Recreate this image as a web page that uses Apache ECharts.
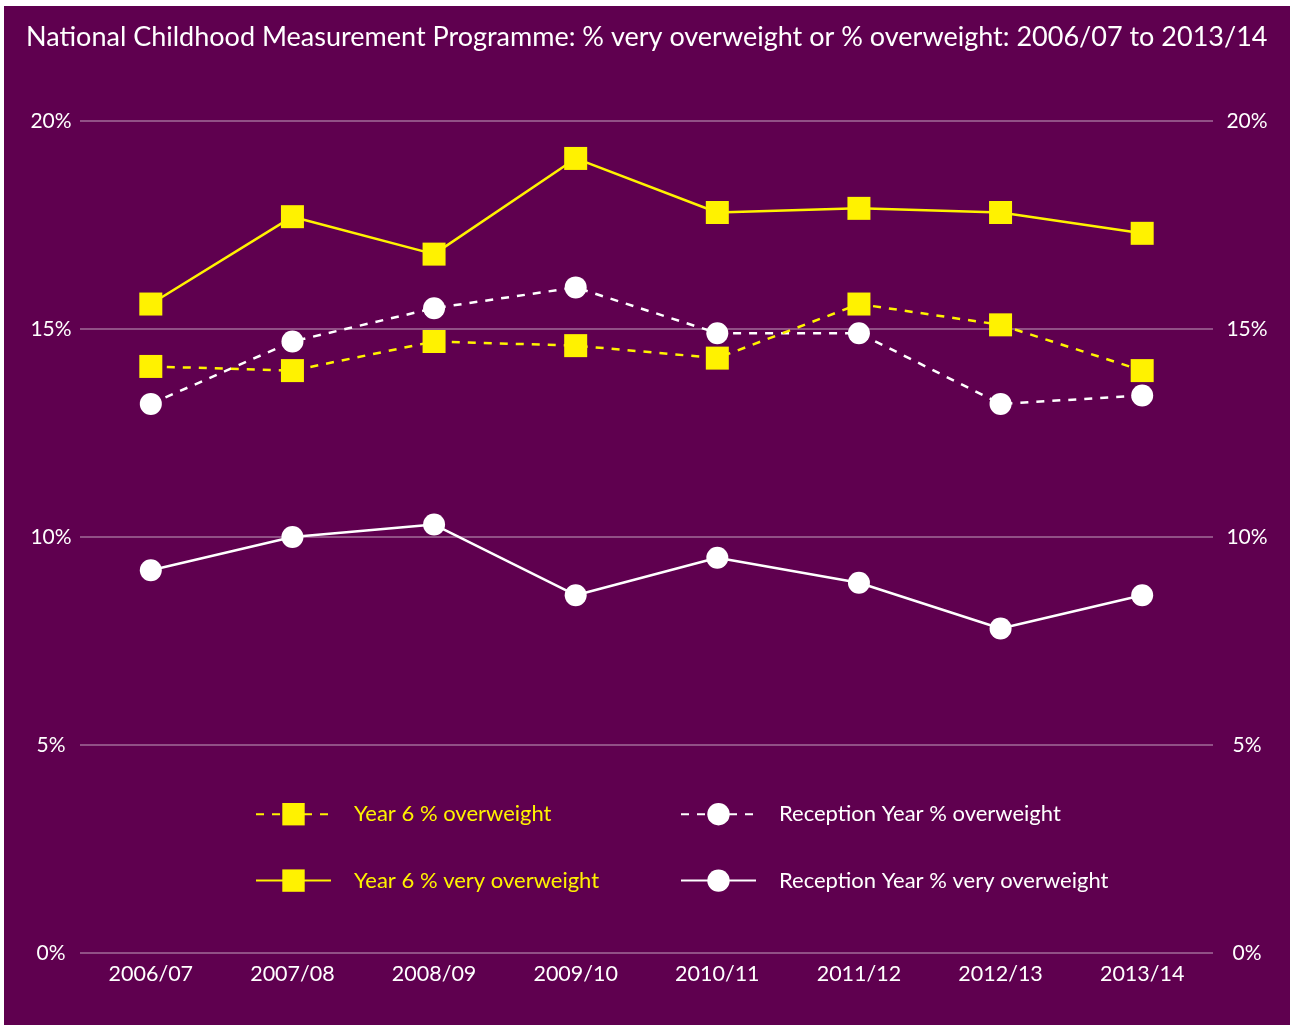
<!DOCTYPE html>
<html>
<head>
<meta charset="utf-8">
<script src="https://cdn.jsdelivr.net/npm/echarts@6/dist/echarts.min.js"></script>
<style>
html,body{margin:0;padding:0;background:#fff;width:1290px;height:1025px;overflow:hidden;}
#c{position:absolute;left:4px;top:6px;width:1286px;height:1019px;}
</style>
</head>
<body>
<div id="c"></div>
<script>
const years = ['2006/07','2007/08','2008/09','2009/10','2010/11','2011/12','2012/13','2013/14'];
const y6Overweight = [14.1, 14.0, 14.7, 14.6, 14.3, 15.6, 15.1, 14.0];
const y6VeryOverweight = [15.6, 17.7, 16.8, 19.1, 17.8, 17.9, 17.8, 17.3];
const recOverweight = [13.2, 14.7, 15.5, 16.0, 14.9, 14.9, 13.2, 13.4];
const recVeryOverweight = [9.2, 10.0, 10.3, 8.6, 9.5, 8.9, 7.8, 8.6];
const yTicks = [0, 5, 10, 15, 20];

const YEL = '#fff200', WHT = '#ffffff', BG = '#5f004f';
const FONT = 'Lato';

const chart = echarts.init(document.getElementById('c'));
const yAxisBase = {
  type: 'value', min: 0, max: 20, interval: 5,
  axisLine: {show: false}, axisTick: {show: false},
  splitLine: {lineStyle: {color: 'rgba(255,255,255,0.42)', width: 1.5}},
  axisLabel: {color: '#fff', fontSize: 21, fontFamily: FONT, align: 'center',
    formatter: v => yTicks.includes(v) ? v + '%' : ''}
};
function ser(name, data, color, dashed, symbol, size) {
  return {
    name, type: 'line', data, symbol, symbolSize: size,
    showSymbol: true,
    lineStyle: {color, width: 2.5, type: dashed ? [8, 8] : 'solid'},
    itemStyle: {color, borderWidth: 0},
    emphasis: {disabled: true}
  };
}
chart.setOption({
  backgroundColor: BG,
  animation: false,
  title: {
    text: 'National Childhood Measurement Programme: % very overweight or % overweight: 2006/07 to 2013/14',
    left: 17, top: 13,
    textStyle: {color: '#fff', fontSize: 27, fontWeight: 'normal', fontFamily: FONT}
  },
  grid: {left: 76, right: 77, top: 115, bottom: 72},
  xAxis: {
    type: 'category', data: years, boundaryGap: true,
    axisLine: {show: false}, axisTick: {show: false},
    axisLabel: {color: '#fff', fontSize: 21.5, fontFamily: FONT, margin: 10}
  },
  yAxis: [
    Object.assign({}, yAxisBase, {position: 'left', axisLabel: Object.assign({}, yAxisBase.axisLabel, {margin: 29})}),
    Object.assign({}, yAxisBase, {position: 'right', splitLine: {show: false}, axisLabel: Object.assign({}, yAxisBase.axisLabel, {margin: 34})})
  ],
  legend: [
    {
      orient: 'vertical', left: 251, top: 797, padding: 0, itemGap: 44,
      itemWidth: 75, itemHeight: 28,
      data: [
        {name: 'Year 6 % overweight', textStyle: {color: YEL}},
        {name: 'Year 6 % very overweight', textStyle: {color: YEL}}
      ],
      textStyle: {fontSize: 22, fontFamily: FONT, padding: [0, 0, 0, 18]}
    },
    {
      orient: 'vertical', left: 676, top: 797, padding: 0, itemGap: 44,
      itemWidth: 75, itemHeight: 28,
      data: [
        {name: 'Reception Year % overweight', textStyle: {color: WHT}},
        {name: 'Reception Year % very overweight', textStyle: {color: WHT}}
      ],
      textStyle: {fontSize: 22, fontFamily: FONT, padding: [0, 0, 0, 18]}
    }
  ],
  series: [
    ser('Reception Year % overweight', recOverweight, WHT, true, 'circle', 22),
    ser('Reception Year % very overweight', recVeryOverweight, WHT, false, 'circle', 22),
    ser('Year 6 % overweight', y6Overweight, YEL, true, 'rect', 23),
    ser('Year 6 % very overweight', y6VeryOverweight, YEL, false, 'rect', 23)
  ]
});
</script>
</body>
</html>
